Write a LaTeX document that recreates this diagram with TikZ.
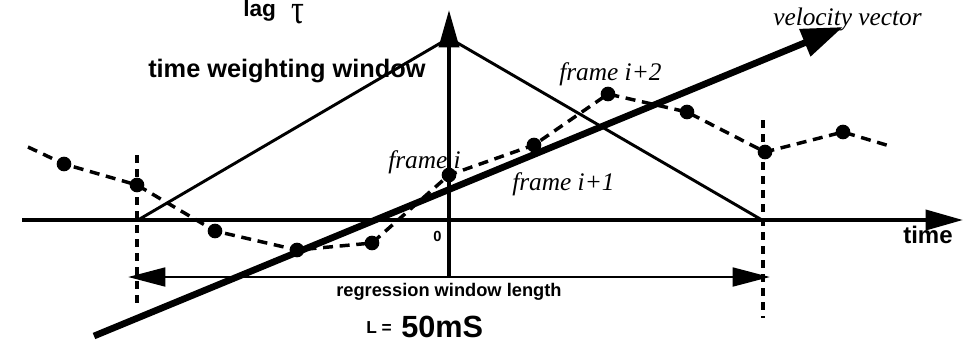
\documentclass[tikz,border=0pt]{standalone}
\usepackage{fontspec}
\setmainfont{Liberation Serif}
\setsansfont{Liberation Sans}
\usetikzlibrary{arrows.meta}
\begin{document}
\begin{tikzpicture}[x=0.75pt,y=-0.75pt,
  dot/.style={circle,fill=black,inner sep=0pt,minimum size=11pt},
  dataline/.style={line width=2.6pt,dash pattern=on 7.5pt off 5pt},
  vdash/.style={line width=2.6pt,dash pattern=on 6pt off 4.5pt},
  axis/.style={line width=2.8pt},
  win/.style={line width=2.2pt},
  bigtip/.style={-{Triangle[length=28pt,width=15pt]}},
  lbl/.style={inner sep=0pt,anchor=base west},
  sfb/.style={lbl,font=\sffamily\bfseries\fontsize{#1}{#1}\selectfont},
  itl/.style={lbl,font=\itshape\fontsize{19}{19}\selectfont}]
\useasboundingbox (0,0) rectangle (975,344);
% coordinates
\coordinate (tL) at (22,220);
\coordinate (tR) at (963,220);
\coordinate (vB) at (449,277);
\coordinate (vT) at (449,10);
\coordinate (wL) at (138,220);
\coordinate (wA) at (449,38);
\coordinate (wR) at (762,220);
\coordinate (dLt) at (137,155);
\coordinate (dLb) at (137,308);
\coordinate (dRt) at (763,120);
\coordinate (dRb) at (763,318);
\coordinate (rL) at (128,277);
\coordinate (rR) at (770,277);
\coordinate (velS) at (94,336);
\coordinate (velE) at (843,27);
\coordinate (sL) at (28,147);
\coordinate (sR) at (893,147);
% dashed verticals
\draw[vdash] (dLt) -- (dLb);
\draw[vdash] (dRt) -- (dRb);
% weighting window
\draw[win] (wL) -- (wA) -- (wR);
% axes
\draw[axis,bigtip] (tL) -- (tR);
\draw[axis,bigtip] (vB) -- (vT);
\draw[line width=2.2pt,{Triangle[length=28pt,width=14pt]}-{Triangle[length=28pt,width=14pt]}] (rL) -- (rR);
% data points
\node[dot] (p1) at (64,164) {};
\node[dot] (p2) at (137,185) {};
\node[dot] (p3) at (215,231) {};
\node[dot] (p4) at (297,250) {};
\node[dot] (p5) at (372,243) {};
\node[dot] (p6) at (449,175) {};
\node[dot] (p7) at (534,145) {};
\node[dot] (p8) at (608,94) {};
\node[dot] (p9) at (687,112) {};
\node[dot] (p10) at (765,152) {};
\node[dot] (p11) at (843,132) {};
\draw[dataline] (sL) -- (p1.center) -- (p2.center) -- (p3.center) -- (p4.center) -- (p5.center) -- (p6.center) -- (p7.center) -- (p8.center) -- (p9.center) -- (p10.center) -- (p11.center) -- (sR);
% velocity vector
\draw[line width=5pt,-{Triangle[length=31pt,width=21pt]}] (velS) -- (velE);
% labels
\node[sfb=17] (lag) at (243,16) {lag};
\node[lbl,font=\fontsize{24}{24}\selectfont] (tau) at (291,23) {\scalebox{1}[1.3]{τ}};
\node[sfb=19] (tww) at (148,77) {time weighting window};
\node[itl] (fi) at (388,168) {frame i};
\node[itl] (fi2) at (559,80) {frame i+2};
\node[itl] (fi1) at (512,190) {frame i+1};
\node[itl] (vv) at (773,25) {velocity vector};
\node[sfb=18] (time) at (903,243) {time};
\node[sfb=11] (zero) at (433,241) {0};
\node[sfb=13.7] (rwl) at (336,296) {regression window length};
\node[sfb=13] (Leq) at (366,333) {L =};
\node[sfb=23] (ms) at (401,337) {50mS};
\end{tikzpicture}
\end{document}
